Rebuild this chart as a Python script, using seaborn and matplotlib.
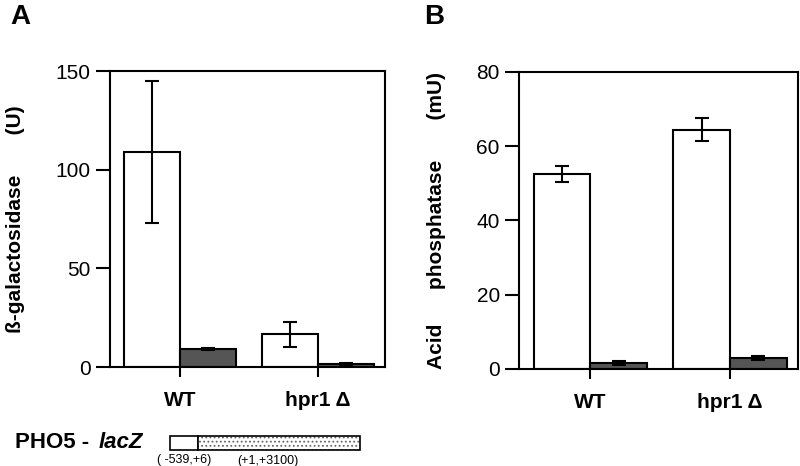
import matplotlib
matplotlib.use('Agg')
import matplotlib.pyplot as plt
import numpy as np
import pandas as pd
import seaborn as sns
from matplotlib.patches import Rectangle

strains = ['WT', 'hpr1 Δ']
conditions = ['white', 'dark']

# panel A: beta-galactosidase (U)
gal_mean = [109, 9.0, 16.5, 1.5]
gal_err = [36, 0.6, 6.5, 0.5]
# panel B: acid phosphatase (mU)
pho_mean = [52.5, 1.6, 64.5, 3.0]
pho_err = [2.2, 0.5, 3.0, 0.5]

sns.set_theme(style='ticks')
plt.rcParams['font.family'] = ['Liberation Sans', 'DejaVu Sans']
plt.rcParams['text.color'] = 'black'
plt.rcParams['xtick.color'] = 'black'
plt.rcParams['ytick.color'] = 'black'
plt.rcParams['hatch.linewidth'] = 0.8

fig = plt.figure(figsize=(8, 4.66), dpi=100)
axA = fig.add_axes([0.1375, 0.2124, 0.344, 0.6352])
axB = fig.add_axes([0.649, 0.2082, 0.349, 0.6373])


def panel(ax, means, errs, ymax, ystep, ylabel, labelx):
    df = pd.DataFrame({
        'strain': [s for s in strains for _ in conditions],
        'cond': conditions * len(strains),
        'value': means,
    })
    sns.barplot(data=df, x='strain', y='value', hue='cond', order=strains,
                hue_order=conditions, palette=['white', '#555555'],
                edgecolor='black', linewidth=1.5, width=0.81, errorbar=None,
                legend=False, ax=ax)
    bars = sorted(ax.patches, key=lambda p: p.get_x())[:len(means)]
    for bar, m, e in zip(bars, means, errs):
        xc = bar.get_x() + bar.get_width() / 2
        ax.errorbar(xc, m, yerr=e, fmt='none', ecolor='black',
                    elinewidth=1.5, capsize=5, capthick=1.5)
    ax.set_ylim(0, ymax)
    ax.set_xlim(-0.51, 1.49)
    ax.set_yticks(np.arange(0, ymax + 1, ystep))
    ax.tick_params(axis='y', direction='out', length=10, width=1.5,
                   labelsize=15, pad=4, labelcolor='black')
    ax.tick_params(axis='x', direction='out', length=7, width=1.5,
                   labelsize=15, pad=10, labelcolor='black')
    for lab in ax.get_xticklabels():
        lab.set_fontweight('bold')
    ax.set_xlabel('')
    ax.set_ylabel('')
    for sp in ax.spines.values():
        sp.set_visible(True)
        sp.set_linewidth(1.5)
        sp.set_color('black')
    fig.text(labelx, (ax.get_position().y0 + ax.get_position().y1) / 2,
             ylabel, rotation=90, ha='center', va='center',
             fontsize=15, fontweight='bold')


panel(axA, gal_mean, gal_err, 150, 50, 'ß-galactosidase       (U)', 16 / 800)
panel(axB, pho_mean, pho_err, 80, 20, 'Acid      phosphatase       (mU)', 436 / 800)

fig.text(10 / 800, 1 - 17 / 466, 'A', fontsize=20, fontweight='bold',
         ha='left', va='center')
fig.text(424 / 800, 1 - 17 / 466, 'B', fontsize=20, fontweight='bold',
         ha='left', va='center')

# construct diagram
fig.text(15 / 800, 1 - 443 / 466, 'PHO5 -', fontsize=16, fontweight='bold',
         ha='left', va='center')
fig.text(99 / 800, 1 - 443 / 466, 'lacZ', fontsize=16, fontweight='bold',
         style='italic', ha='left', va='center')
fig.patches.append(Rectangle((170 / 800, 1 - 450 / 466), 28 / 800, 14 / 466,
                             transform=fig.transFigure, facecolor='white',
                             edgecolor='black', linewidth=1.2))
fig.patches.append(Rectangle((198 / 800, 1 - 450 / 466), 162 / 800, 14 / 466,
                             transform=fig.transFigure, facecolor='white',
                             edgecolor='#666666', hatch='....', linewidth=0))
fig.patches.append(Rectangle((198 / 800, 1 - 450 / 466), 162 / 800, 14 / 466,
                             transform=fig.transFigure, fill=False,
                             edgecolor='black', linewidth=1.2))
fig.text(184 / 800, 1 - 460 / 466, '( -539,+6)', fontsize=9,
         ha='center', va='center')
fig.text(268 / 800, 1 - 461 / 466, '(+1,+3100)', fontsize=9,
         ha='center', va='center')

fig.savefig('out.png', dpi=100)
